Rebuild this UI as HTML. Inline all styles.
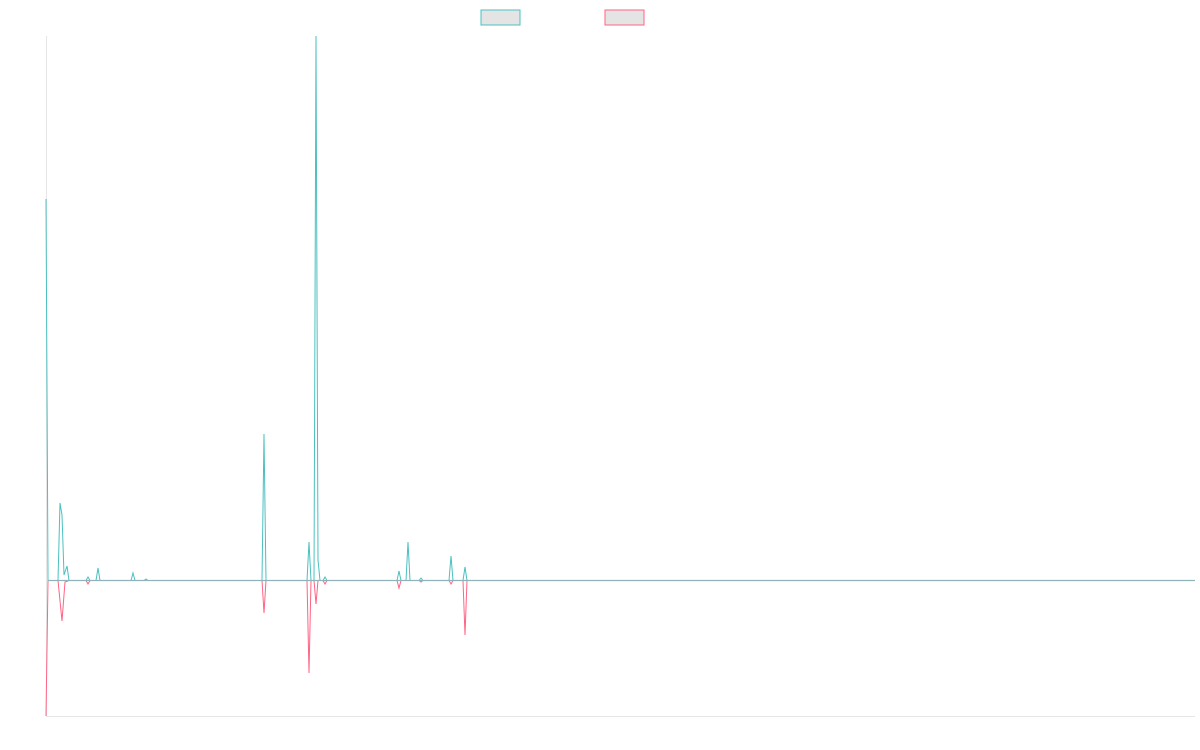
<!DOCTYPE html>
<html><head><meta charset="utf-8"><style>html,body{margin:0;background:#fff}svg{display:block}</style></head>
<body>
<svg width="1200" height="750" xmlns="http://www.w3.org/2000/svg">
<rect x="481" y="10" width="39" height="15" fill="#e4e4e4" stroke="#4bc0c0" stroke-width="1"/>
<rect x="605" y="10" width="39" height="15" fill="#e4e4e4" stroke="#ff6384" stroke-width="1"/>
<line x1="46.5" y1="36" x2="46.5" y2="716" stroke="#e6e6e6"/>
<line x1="46" y1="716.5" x2="1195" y2="716.5" stroke="#e6e6e6"/>
<polyline fill="none" stroke="#ff6384" stroke-width="1" points="46,716 48,580.5 58,580.5 62,621 65,582 69,580.5 86,580.5 88,584 90,580.5 262,580.5 264,613 266,580.5 307,580.5 309,673 311,580.5 314,580.5 316,604 318,580.5 323,580.5 325,584 327,580.5 397,580.5 399,588 401,580.5 419,580.5 421,582 423,580.5 449,580.5 451,584 453,580.5 463,580.5 465,635 467,580.5"/>
<polyline fill="none" stroke="#4bc0c0" stroke-width="1" points="46,199 48,580.5 58,580.5 60,503 62,515 64,575 67,566 69,580.5 86,580.5 88,577 90,580.5 96,580.5 98,568 100,580.5 131,580.5 133,573 135,580.5 144,580.5 146,579 148,580.5 262,580.5 264,434 266,580.5 307,580.5 309,542 311,580.5 314,580.5 316,36 318,560 320,580.5 323,580.5 325,577 327,580.5 397,580.5 399,571 401,580.5 406,580.5 408,542 410,580.5 419,580.5 421,578 423,580.5 449,580.5 451,556 453,580.5 463,580.5 465,567 467,580.5"/>
<line x1="48" y1="580.5" x2="1195" y2="580.5" stroke="#8fb3b8" stroke-width="1.2"/>
</svg>
</body></html>
